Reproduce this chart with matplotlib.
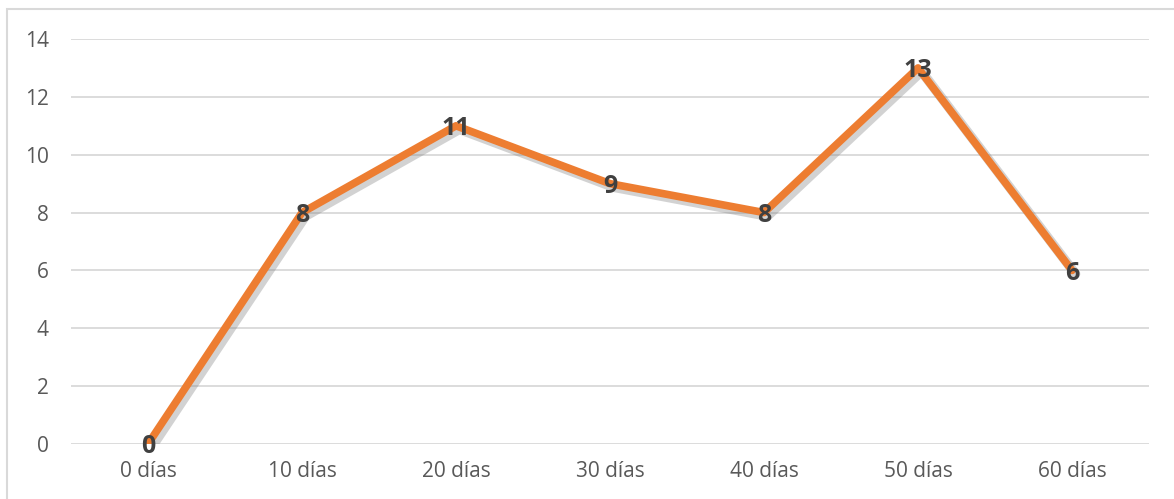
import matplotlib.pyplot as plt
import matplotlib.patheffects as pe
from matplotlib.patches import Rectangle

dias = ["0 días", "10 días", "20 días", "30 días", "40 días", "50 días", "60 días"]
valores = [0, 8, 11, 9, 8, 13, 6]

naranja = "#ED7D31"
gris_texto = "#595959"
gris_linea = "#D9D9D9"

plt.rcParams["font.family"] = ["Open Sans", "DejaVu Sans"]

fig = plt.figure(figsize=(11.74, 4.99), dpi=100)
ax = fig.add_axes([71 / 1174, 55 / 499, 1078 / 1174, 405 / 499])

# borde del área del gráfico
fig.patches.append(Rectangle((7 / 1174, -0.1), 1.2, (490 / 499) + 0.1,
                             transform=fig.transFigure, fill=False,
                             edgecolor=gris_linea, linewidth=1.5))

x = list(range(len(dias)))
ax.plot(x, valores, color=naranja, linewidth=5.5, solid_capstyle="round",
        solid_joinstyle="round", zorder=3,
        path_effects=[pe.SimpleLineShadow(offset=(2.5, -2.5), shadow_color="#808080",
                                          alpha=0.35, linewidth=7),
                      pe.Normal()])

for xi, v in zip(x, valores):
    ax.annotate(str(v), (xi, v), xytext=(0, -2), textcoords="offset points",
                ha="center", va="center", fontsize=18,
                fontweight="bold", color="#404040", zorder=4)

ax.set_xlim(-0.5, len(dias) - 0.5)
ax.set_ylim(0, 14)
ax.set_yticks(range(0, 15, 2))
ax.set_xticks(x)
ax.set_xticklabels(dias)

ax.grid(axis="y", color=gris_linea, linewidth=1.3)
ax.set_axisbelow(True)
for s in ax.spines.values():
    s.set_visible(False)
ax.tick_params(length=0, labelsize=15, colors=gris_texto)
ax.tick_params(axis="y", pad=16)
ax.tick_params(axis="x", pad=12)

fig.savefig("out.png", dpi=100)
